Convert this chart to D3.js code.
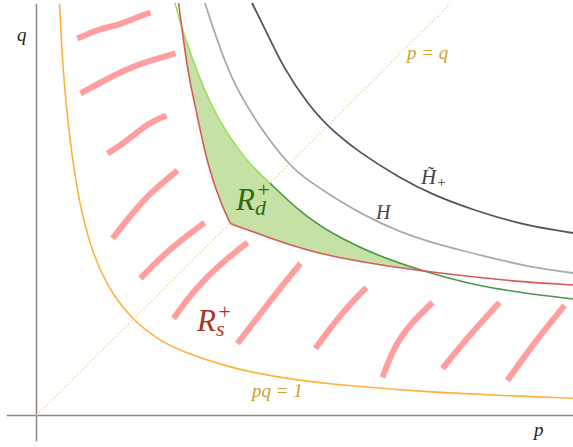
<!DOCTYPE html>
<html>
<head>
<meta charset="utf-8">
<script src="https://cdn.jsdelivr.net/npm/d3@7"></script>
<style>
  body { margin: 0; background: #fff; }
  svg { display: block; }
  text { font-family: "Liberation Serif", "DejaVu Serif", serif; font-style: italic; }
</style>
</head>
<body>
<svg id="chart" width="573" height="447"></svg>
<script>
// curves, as [p, q]
var unitCurve = [[0.24,4.29],[0.27,3.7],[0.3,3.33],[0.35,2.86],[0.4,2.5],[0.45,2.22],[0.5,2.0],[0.58,1.72],[0.67,1.5],[0.8,1.25],[1.0,1.0],[1.25,0.8],[1.5,0.67],[2.0,0.5],[2.5,0.4],[3.0,0.33],[4.0,0.25],[4.8,0.21],[5.59,0.18]];
var diagonal = [[0,0],[4.31,4.29]];
var hTilde = [[2.245,4.297],[2.401,3.984],[2.568,3.63],[2.818,3.255],[3.036,3.005],[3.37,2.734],[3.786,2.474],[4.13,2.297],[4.547,2.141],[5.068,1.984],[5.589,1.901]];
var hCurve = [[1.755,4.297],[1.88,3.911],[2.047,3.464],[2.297,3.047],[2.568,2.682],[2.745,2.505],[3.089,2.276],[3.443,2.068],[3.786,1.911],[4.13,1.797],[4.411,1.724],[5.068,1.557],[5.589,1.484]];
var greenUpper = [[1.443,4.297],[1.516,4.016],[1.703,3.495],[1.88,3.099],[2.172,2.661],[2.432,2.42]];
var greenLower = [[2.432,2.42],[2.745,2.12],[3.057,1.901],[3.578,1.651],[4.026,1.505],[4.547,1.359],[5.068,1.276],[5.589,1.214]];
var redUpper = [[1.48,4.297],[1.516,4.016],[1.57,3.63],[1.625,3.35],[1.68,3.09],[1.79,2.58],[1.92,2.21],[2.02,2.0]];
var redLower = [[2.02,2.0],[2.125,1.96],[2.432,1.849],[2.745,1.745],[3.057,1.661],[3.578,1.568],[4.026,1.505],[4.547,1.443],[5.068,1.391],[5.589,1.359]];

// hand drawn hatching of R_s+
var hatches = [
  [[0.427,3.927],[0.667,4.031],[0.844,4.063],[1.010,4.135],[1.1875,4.198]],
  [[0.458,3.354],[0.667,3.469],[0.948,3.615],[1.1875,3.698],[1.448,3.771]],
  [[0.740,2.729],[0.948,2.865],[1.156,3.042],[1.354,3.125]],
  [[0.792,1.844],[0.979,2.083],[1.1875,2.323],[1.469,2.552]],
  [[1.083,1.427],[1.260,1.615],[1.5,1.823],[1.75,2.010]],
  [[1.427,1.010],[1.635,1.302],[1.917,1.583],[2.198,1.802]],
  [[2.094,0.75],[2.302,1.021],[2.542,1.333],[2.75,1.583]],
  [[2.906,0.698],[3.094,0.958],[3.271,1.167],[3.4375,1.333]],
  [[3.604,0.396],[3.719,0.708],[3.896,0.958],[4.125,1.177]],
  [[4.229,0.490],[4.490,0.8125],[4.823,1.177]],
  [[4.906,0.365],[5.177,0.75],[5.5,1.146]]
];

var svg = d3.select("#chart");

var x = d3.scaleLinear().domain([0, 1]).range([36.5, 132.5]),
    y = d3.scaleLinear().domain([0, 1]).range([415.5, 319.5]);

var line = d3.line()
    .x(function(d) { return x(d[0]); })
    .y(function(d) { return y(d[1]); })
    .curve(d3.curveBasis);

// R_d+ : between the green and the red curve, from crossing to crossing
var inside = function(d) { return d[0] >= 1.516 && d[0] <= 4.026; };
var gPts = greenUpper.concat(greenLower.slice(1)).filter(inside);
var rLow = redLower.filter(inside).reverse();
var rUp = redUpper.filter(inside).reverse();
svg.append("path")
    .attr("d", line(gPts) + "L" + line(rLow).slice(1) + "L" + line(rUp).slice(1) + "Z")
    .attr("fill", "#c5e1a5");

// axes
svg.append("line")
    .attr("x1", x(-0.31)).attr("x2", x(5.6))
    .attr("y1", y(0)).attr("y2", y(0))
    .attr("stroke", "#888").attr("stroke-width", 1.5);
svg.append("line")
    .attr("x1", x(0)).attr("x2", x(0))
    .attr("y1", y(4.29)).attr("y2", y(-0.27))
    .attr("stroke", "#888").attr("stroke-width", 1.5);

svg.selectAll(".hatch")
    .data(hatches)
  .enter().append("path")
    .attr("class", "hatch")
    .attr("d", line)
    .attr("fill", "none")
    .attr("stroke", "#ff9e9e")
    .attr("stroke-width", 6)
    .attr("stroke-linecap", "butt");

svg.append("path")
    .attr("d", d3.line().x(function(d) { return x(d[0]); }).y(function(d) { return y(d[1]); })(diagonal))
    .attr("fill", "none")
    .attr("stroke", "#ffcc85")
    .attr("stroke-width", 1.5)
    .attr("stroke-dasharray", "1.2,2.4");

var curves = [
  {pts: unitCurve, color: "#ffb13d", w: 1.6},
  {pts: hCurve, color: "#aaaaaa", w: 1.8},
  {pts: hTilde, color: "#555555", w: 1.8},
  {pts: greenUpper, color: "#99dd55", w: 1.5},
  {pts: greenLower, color: "#4a964a", w: 1.6},
  {pts: redUpper, color: "#d65a5a", w: 1.6},
  {pts: redLower, color: "#d65a5a", w: 1.6}
];
svg.selectAll(".curve")
    .data(curves)
  .enter().append("path")
    .attr("class", "curve")
    .attr("d", function(d) { return line(d.pts); })
    .attr("fill", "none")
    .attr("stroke", function(d) { return d.color; })
    .attr("stroke-width", function(d) { return d.w; });

// labels
function label(px, py, txt, size, color) {
  return svg.append("text")
      .attr("x", px).attr("y", py)
      .attr("font-size", size)
      .attr("fill", color)
      .text(txt);
}
label(17, 41, "q", 19, "#222");
label(534, 436, "p", 19, "#222");
label(407, 59, "p = q", 19, "#d4a22a");
label(252, 397, "pq = 1", 19, "#c9a030");
label(376, 219, "H", 20, "#444");

// H~ with subscript +, sub/superscripted R's as single texts
var ht = label(421, 184, "H\u0303", 21, "#444");
ht.append("tspan").attr("font-size", 15).attr("dy", 3).text("+");

var rd = label(236, 210, "R", 31, "#2e6b12");
rd.append("tspan").attr("x", 256).attr("dy", -13).attr("font-size", 22).text("+");
rd.append("tspan").attr("x", 255).attr("dy", 18).attr("font-size", 22).text("d");

var rs = label(197, 331, "R", 31, "#a8341c");
rs.append("tspan").attr("x", 217).attr("dy", -12).attr("font-size", 22).text("+");
rs.append("tspan").attr("x", 216).attr("dy", 17).attr("font-size", 22).text("s");
</script>
</body>
</html>
